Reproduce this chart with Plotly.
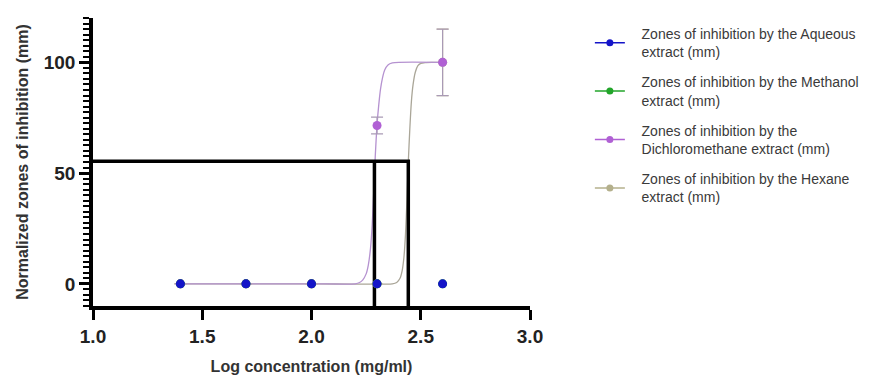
import plotly.graph_objects as go

# ---- data ----
log_conc = [1.4, 1.7, 2.0, 2.3, 2.6]
aqueous = [0, 0, 0, 0, 0]
methanol = [0, 0, 0, 0, 0]
dichloromethane = [0, 0, 0, 71.5, 100]
dichloromethane_err = [0, 0, 0, 3.8, 15]
hexane = [0, 0, 0, 0, 100]
hexane_err = [0, 0, 0, 0, 15]

# fitted curves
dcm_fit_x = [1.4, 2.0, 2.2, 2.22, 2.235, 2.25, 2.26, 2.27, 2.278, 2.285, 2.292, 2.30, 2.308, 2.316, 2.325, 2.335, 2.35, 2.37, 2.4, 2.6]
dcm_fit_y = [0, 0, 0, 0.6, 1.8, 4.5, 8.5, 16, 27, 42, 58, 72, 81, 88, 93, 96.5, 98.8, 99.7, 100, 100]
hex_fit_x = [1.4, 2.0, 2.37, 2.39, 2.405, 2.415, 2.423, 2.43, 2.437, 2.443, 2.45, 2.457, 2.465, 2.475, 2.487, 2.50, 2.52, 2.55, 2.6]
hex_fit_y = [0, 0, 0, 0.6, 2.5, 6, 12, 22, 38, 55, 70, 82, 90, 95.5, 98.5, 99.5, 99.9, 100, 100]

# IC50 guide lines
ic50_level = 55.3
ic50_dcm = 2.288
ic50_hex = 2.443

series_names = [
    ["Zones of inhibition by the Aqueous", "extract (mm)"],
    ["Zones of inhibition by the Methanol", "extract (mm)"],
    ["Zones of inhibition by the", "Dichloromethane extract (mm)"],
    ["Zones of inhibition by the Hexane", "extract (mm)"],
]
colors = ["#1414c8", "#22a52a", "#b060d4", "#b4b08c"]

x_range = [1.0, 3.0]
y_range = [-10, 120]

fig = go.Figure()

# fitted curves
fig.add_trace(go.Scatter(x=hex_fit_x, y=hex_fit_y, mode="lines",
                         line=dict(color="#aaa698", width=1.3, shape="spline", smoothing=0.6),
                         showlegend=False, hoverinfo="skip"))
fig.add_trace(go.Scatter(x=dcm_fit_x, y=dcm_fit_y, mode="lines",
                         line=dict(color="#b592d0", width=1.3, shape="spline", smoothing=0.6),
                         showlegend=False, hoverinfo="skip"))

# guide lines
fig.add_trace(go.Scatter(x=[x_range[0], ic50_hex, ic50_hex], y=[ic50_level, ic50_level, y_range[0]], mode="lines",
                         line=dict(color="black", width=3.5), showlegend=False, hoverinfo="skip"))
fig.add_trace(go.Scatter(x=[ic50_dcm, ic50_dcm], y=[ic50_level, y_range[0]], mode="lines",
                         line=dict(color="black", width=3.5), showlegend=False, hoverinfo="skip"))

# data points
fig.add_trace(go.Scatter(x=log_conc, y=hexane, mode="markers", marker=dict(color=colors[3], size=9),
                         error_y=dict(type="data", array=hexane_err, color="#c8bf9c", thickness=1.2, width=6),
                         showlegend=False))
fig.add_trace(go.Scatter(x=log_conc, y=dichloromethane, mode="markers", marker=dict(color=colors[2], size=9),
                         error_y=dict(type="data", array=dichloromethane_err, color="#a99ab5", thickness=1.2, width=6),
                         showlegend=False))
fig.add_trace(go.Scatter(x=log_conc, y=methanol, mode="markers", marker=dict(color=colors[1], size=9), showlegend=False))
fig.add_trace(go.Scatter(x=log_conc, y=aqueous, mode="markers", marker=dict(color=colors[0], size=9), showlegend=False))

# legend entries
pad = "\u00a0\u00a0\u00a0"
for i, (lines, c) in enumerate(zip(series_names, colors)):
    fig.add_trace(go.Scatter(x=[None], y=[None], mode="lines+markers",
                             name="<br>".join(pad + t for t in lines), legendgroup=str(i),
                             line=dict(color=c, width=1.5), marker=dict(color=c, size=7)))

fig.update_layout(
    width=882, height=376,
    margin=dict(l=93, r=352, t=18, b=70, autoexpand=False),
    paper_bgcolor="white", plot_bgcolor="white",
    font=dict(family="Liberation Sans, Arial, sans-serif", color="#222"),
    legend=dict(x=1.137, y=1.0, xanchor="left", yanchor="top", font=dict(size=14, color="#3a3a3a"),
                tracegroupgap=9, bgcolor="rgba(0,0,0,0)", itemwidth=30),
)
fig.update_xaxes(
    range=x_range, tickvals=[1.0, 1.5, 2.0, 2.5, 3.0], ticktext=["1.0", "1.5", "2.0", "2.5", "3.0"],
    showline=True, linecolor="black", linewidth=3.5, ticks="outside", ticklen=10, tickwidth=3, tickcolor="black",
    showgrid=False, zeroline=False, automargin=False,
    tickfont=dict(size=19, weight="bold", color="#222"),
    title=dict(text="Log concentration (mg/ml)", font=dict(size=16, weight="bold", color="#333"), standoff=16),
)
fig.update_yaxes(
    range=y_range, tickvals=[0, 50, 100],
    showline=True, linecolor="black", linewidth=3.5, ticks="outside", ticklen=10, tickwidth=3, tickcolor="black",
    minor=dict(dtick=2.5, tick0=0, ticks="outside", ticklen=6, tickwidth=2, tickcolor="black", showgrid=False),
    showgrid=False, zeroline=False, automargin=False,
    tickfont=dict(size=19, weight="bold", color="#222"),
    title=dict(text="Normalized zones of inhibition (mm)", font=dict(size=16, weight="bold", color="#333"), standoff=12),
)

fig.write_html("out.html", config={"displayModeBar": False},
               post_script="document.body.style.margin='0';")
